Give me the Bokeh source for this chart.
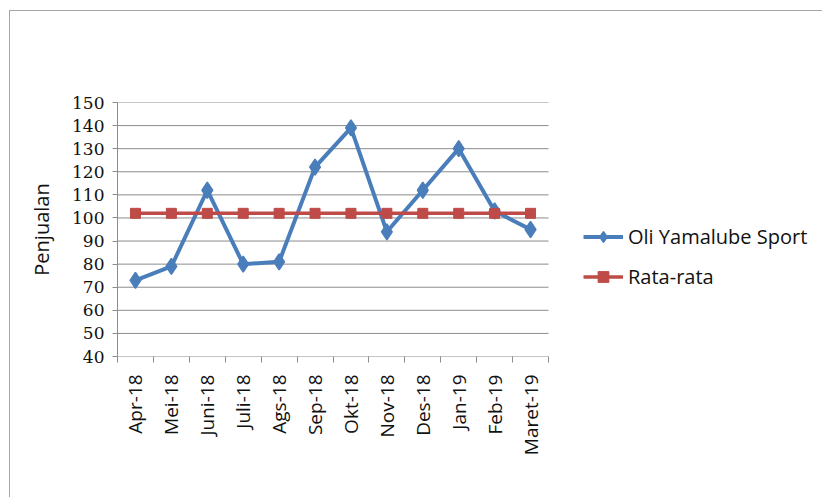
from math import pi
from bokeh.plotting import figure
from bokeh.models import Range1d, FixedTicker, Legend, LegendItem
from bokeh.embed import file_html
from bokeh.resources import INLINE

months = ["Apr-18", "Mei-18", "Juni-18", "Juli-18", "Ags-18", "Sep-18",
          "Okt-18", "Nov-18", "Des-18", "Jan-19", "Feb-19", "Maret-19"]
sales = [73, 79, 112, 80, 81, 122, 139, 94, 112, 130, 103, 95]
average = [102] * 12
y_ticks = list(range(40, 151, 10))

xs = list(range(1, len(months) + 1))
x_lo = 0.5
x_hi = len(months) + 0.5

# plot area spans 431 px for the 12 categories; the frame is widened to the
# right so that the legend (drawn inside the frame) can sit beside the chart
FRAME_W = 703
CAT_W = 431
x_end = x_lo + FRAME_W * (x_hi - x_lo) / CAT_W

p = figure(width=813, height=487, output_backend="svg", toolbar_location=None,
           x_range=Range1d(x_lo, x_end), y_range=Range1d(40, 150),
           min_border_left=107, min_border_right=3, min_border_top=91,
           min_border_bottom=142,
           margin=(10, 0, 0, 9),
           styles={"border-left": "1px solid #a6a6a6",
                   "border-top": "1px solid #a6a6a6"})
p.outline_line_color = None
p.background_fill_color = "white"
p.border_fill_color = "white"

GRID = "#8c8c8c"
p.xgrid.grid_line_color = None
p.ygrid.grid_line_color = None

# horizontal gridlines (and x axis line at 40) limited to the category span
p.segment(x0=[x_lo] * len(y_ticks), x1=[x_hi] * len(y_ticks),
          y0=y_ticks, y1=y_ticks, line_color=GRID, line_width=1)

ya = p.yaxis[0]
ya.ticker = FixedTicker(ticks=y_ticks)
ya.axis_line_color = GRID
ya.major_tick_line_color = GRID
ya.major_tick_out = 5
ya.major_tick_in = 0
ya.minor_tick_line_color = None
ya.major_label_text_font = "DejaVu Serif"
ya.major_label_text_font_size = "17px"
ya.major_label_text_color = "#111111"
ya.major_label_standoff = 8
ya.axis_label = "Penjualan"
ya.axis_label_text_font = "Open Sans"
ya.axis_label_text_font_size = "20px"
ya.axis_label_text_font_style = "normal"
ya.axis_label_text_color = "#111111"
ya.axis_label_standoff = 14

xa = p.xaxis[0]
xa.ticker = FixedTicker(ticks=xs, minor_ticks=[x - 0.5 for x in xs] + [x_hi])
xa.major_label_overrides = {x: m for x, m in zip(xs, months)}
xa.major_label_orientation = pi / 2
xa.axis_line_color = None
xa.major_tick_line_color = None
xa.major_tick_out = 0
xa.major_tick_in = 0
xa.minor_tick_line_color = GRID
xa.minor_tick_out = 6
xa.minor_tick_in = 0
xa.major_label_text_font = "Open Sans"
xa.major_label_text_font_size = "19px"
xa.major_label_text_color = "#111111"
xa.major_label_standoff = 12

BLUE = "#4a7ebb"
RED = "#be4b48"

l1 = p.line(xs, sales, line_color=BLUE, line_width=4)
m1 = p.scatter(xs, sales, marker="diamond", size=16, line_width=1.5,
               fill_color=BLUE, line_color=BLUE)
l2 = p.line(xs, average, line_color=RED, line_width=3.5)
m2 = p.scatter(xs, average, marker="square", size=10,
               fill_color=RED, line_color=RED)

legend = Legend(items=[LegendItem(label="Oli Yamalube Sport", renderers=[l1, m1]),
                       LegendItem(label="Rata-rata", renderers=[l2, m2])],
                location=(466, 66), orientation="vertical",
                glyph_width=40, glyph_height=27, label_standoff=5,
                spacing=13, padding=0, margin=0,
                border_line_alpha=0, background_fill_alpha=0,
                label_text_font="Open Sans", label_text_font_size="20px",
                label_text_color="#111111")
p.add_layout(legend, "center")

open("out.html", "w").write(file_html(p, INLINE))
